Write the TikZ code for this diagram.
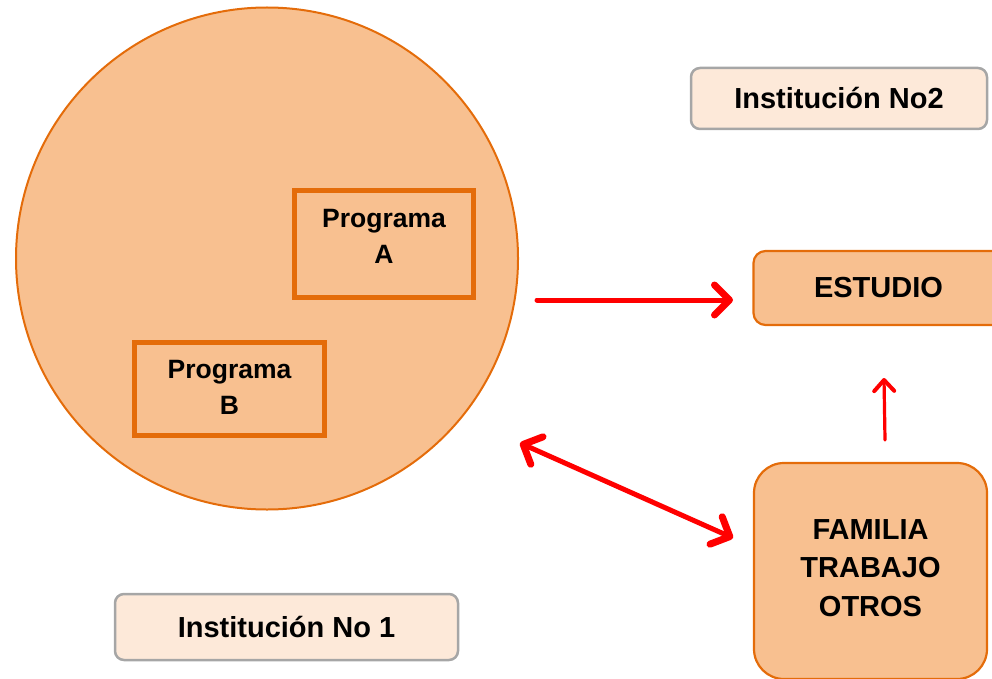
\documentclass[tikz,border=0pt]{standalone}
\usepackage{fontspec}
\setmainfont{Liberation Sans}
\usetikzlibrary{arrows.meta}
\definecolor{orfill}{HTML}{F8C090}
\definecolor{ordraw}{HTML}{E46C0A}
\definecolor{ltfill}{HTML}{FDE9D9}
\definecolor{grdraw}{HTML}{A6A6A6}
\definecolor{arred}{HTML}{FF0000}
\tikzset{
  bigcirc/.style={circle, fill=orfill, draw=ordraw, line width=2pt, minimum size=502pt, inner sep=0pt},
  progbox/.style={rectangle, fill=orfill, draw=ordraw, line width=5pt, inner sep=0pt},
  progtxt/.style={font=\bfseries\fontsize{26.5}{36}\selectfont, align=center, inner sep=0pt},
  orbox/.style={rectangle, rounded corners=12pt, fill=orfill, draw=ordraw, line width=2.2pt, inner sep=0pt, font=\bfseries\fontsize{29}{38.5}\selectfont, align=center},
  instbox/.style={rectangle, rounded corners=9pt, fill=ltfill, draw=grdraw, line width=2.5pt, inner sep=0pt, font=\bfseries\fontsize{29}{34}\selectfont, align=center},
  bigbarb/.tip={Straight Barb[length=15pt,width=30pt,line width=7pt,round]},
  smallbarb/.tip={Straight Barb[length=11pt,width=20pt,line width=4pt,round]},
  redarr/.style={draw=arred, line width=5pt, line cap=round, -bigbarb},
  redarr2/.style={draw=arred, line width=5pt, line cap=round, bigbarb-bigbarb},
  redarr3/.style={draw=arred, line width=3.2pt, line cap=round, -smallbarb}
}
\begin{document}
\begin{tikzpicture}[x=1pt,y=-1pt]
\useasboundingbox (0,0) rectangle (992,679);
\node[bigcirc] (circ) at (267,258.5) {};
\node[progbox, minimum width=179pt, minimum height=107pt] (progA) at (384,244) {};
\node[progtxt] (progAt) at ([yshift=8pt]progA.center) {Programa\\A};
\node[progbox, minimum width=190pt, minimum height=93pt] (progB) at (229.5,389) {};
\node[progtxt] (progBt) at ([yshift=2pt]progB.center) {Programa\\B};
\node[instbox, minimum width=296pt, minimum height=61pt] (inst2) at (839,98.5) {Institución No2};
\node[instbox, minimum width=343pt, minimum height=66pt] (inst1) at (286.5,627) {Institución No 1};
\node[orbox, minimum width=250pt, minimum height=74pt] (estudio) at (878.5,288) {ESTUDIO};
\node[orbox, rounded corners=30pt, minimum width=233pt, minimum height=216pt] (familia) at (870.5,571) {};
\node[orbox, draw=none, fill=none, minimum width=0pt, minimum height=0pt] (familiat) at ([yshift=3pt]familia.center) {FAMILIA\\TRABAJO\\OTROS};
\coordinate (a1s) at (537,300);
\coordinate (a1e) at (733,300);
\coordinate (a2s) at (520,443);
\coordinate (a2e) at (733,538);
\coordinate (a3s) at (885,440);
\coordinate (a3e) at (884,378);
\draw[redarr] (a1s) -- (a1e);
\draw[redarr2] (a2s) -- (a2e);
\draw[redarr3] (a3s) -- (a3e);
\end{tikzpicture}
\end{document}
